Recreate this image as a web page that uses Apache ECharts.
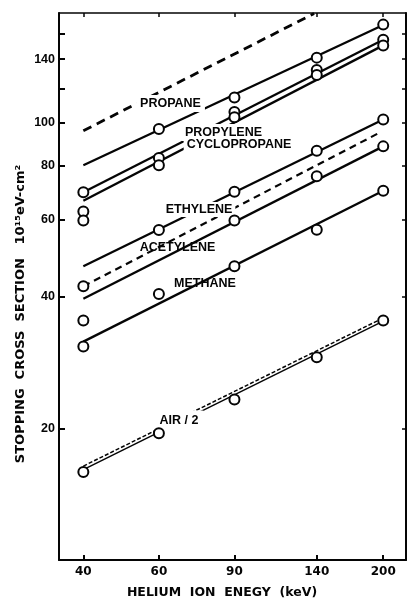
<!DOCTYPE html>
<html><head><meta charset="utf-8">
<script src="https://cdn.jsdelivr.net/npm/echarts@6/dist/echarts.min.js"></script>
<style>html,body{margin:0;padding:0;background:#fff}#c{width:409px;height:600px}</style>
</head><body><div id="c"></div>
<script>
// ---- data ----
const energies = [40, 60, 90, 140, 200];          // keV
const xTickValues = [40, 60, 90, 140, 200];
const yTickValues = [20, 40, 60, 80, 100, 120, 140, 160];
const yLabelValues = [20, 40, 60, 80, 100, 140];
const xRange = [35.1, 226];
const yRange = [10, 178.5];

// measured points (circles) at the energies above; null = no circle
const propaneData      = [null, 96.9, 114.3, 141.1, 167.9];
const propyleneData    = [69.4, 83.2, 106.0, 132.2, 155.1];
const cyclopropaneData = [null, 80.0, 103.0, 128.8, 150.5];
const ethyleneData     = [null, 56.9, 69.6, 86.4, 101.8];
const acetyleneDashData= [42.3, null, null, null, null];
const acetyleneData    = [null, null, 59.8, 75.5, 88.4];
const methaneData      = [30.8, 40.6, 47.0, 57.0, 70.0];
const airData          = [15.9, 19.5, 23.3, 29.1, 35.3];
const isolated40Data   = [62.7, 59.8, 35.3];       // lone circles at 40 keV

// fitted straight lines: [energy, value] end points
const propaneDashFit   = [[40, 96.0], [138, 178]];
const propaneFit       = [[40, 80.0], [200, 167.5]];
const propyleneFit     = [[40, 69.4], [200, 155.1]];
const cyclopropaneFit  = [[40, 66.4], [200, 150.5]];
const ethyleneFit      = [[40, 47.0], [200, 101.8]];
const acetyleneDashFit = [[40, 42.3], [196, 95.0]];
const acetyleneFit     = [[40, 39.6], [200, 88.4]];
const methaneFit       = [[40, 31.6], [200, 70.0]];
const airFit           = [[40, 16.1], [200, 35.2]];
const airDashFit       = [[40, 16.4], [200, 35.8]];

// ---- chart ----
const INK = '#050505';
const L = Math.log10;
const toXY = (e, v) => [L(e), L(v)];
const lg = a => a.map(L);

function fitSeries(pts, style) {
  return {
    type: 'line', data: pts.map(p => toXY(p[0], p[1])), symbol: 'none',
    silent: true, z: 2, clip: true, animation: false,
    lineStyle: Object.assign({ color: INK, width: 2.3, cap: 'butt' }, style)
  };
}

const circles = [];
[propaneData, propyleneData, cyclopropaneData, ethyleneData, acetyleneDashData,
 acetyleneData, methaneData, airData].forEach(arr =>
  arr.forEach((v, i) => { if (v != null) circles.push(toXY(energies[i], v)); }));
isolated40Data.forEach(v => circles.push(toXY(40, v)));

const labelFont = 'bold 12.5px "Liberation Sans", Arial, sans-serif';
function label(text, x, y, bg, pad) {
  return { type: 'text', x, y, z: 3, silent: true,
    style: { text, font: labelFont, fill: INK, align: 'center', verticalAlign: 'middle',
      backgroundColor: bg ? '#fff' : 'transparent', padding: pad || 0 } };
}

const fmt = v => String(Math.round(Math.pow(10, v)));
const xAxisBase = {
  type: 'value', min: L(xRange[0]), max: L(xRange[1]), splitLine: { show: false },
  axisLine: { lineStyle: { color: INK, width: 2 } }
};
const yAxisBase = {
  type: 'value', min: L(yRange[0]), max: L(yRange[1]), splitLine: { show: false },
  axisLine: { lineStyle: { color: INK, width: 2 } }
};

const chart = echarts.init(document.getElementById('c'), null, { renderer: 'canvas' });
chart.setOption({
  animation: false,
  backgroundColor: '#fff',
  grid: { left: 59, right: 3, top: 13, bottom: 40, containLabel: false, outerBoundsMode: 'none' },
  xAxis: [
    Object.assign({}, xAxisBase, {
      position: 'bottom',
      axisTick: { inside: true, length: 5, lineStyle: { color: INK, width: 2 }, customValues: lg(xTickValues) },
      axisLabel: { customValues: lg(xTickValues), formatter: fmt, margin: 6, color: INK,
        fontFamily: '"DejaVu Sans", sans-serif', fontWeight: 'bold', fontSize: 12 }
    }),
    Object.assign({}, xAxisBase, {
      position: 'top', axisLine: { lineStyle: { color: INK, width: 1.5 } },
      axisTick: { inside: true, length: 4, lineStyle: { color: INK, width: 1.5 }, customValues: lg(xTickValues) },
      axisLabel: { show: false }
    })
  ],
  yAxis: [
    Object.assign({}, yAxisBase, {
      position: 'left',
      axisTick: { inside: true, length: 6, lineStyle: { color: INK, width: 2 }, customValues: lg(yTickValues) },
      axisLabel: { customValues: lg(yLabelValues), formatter: fmt, margin: 4, color: INK,
        fontFamily: '"Liberation Sans", Arial, sans-serif', fontWeight: 'bold', fontSize: 12.5 }
    }),
    Object.assign({}, yAxisBase, {
      position: 'right',
      axisTick: { inside: true, length: 4, lineStyle: { color: INK, width: 1.5 }, customValues: lg(yTickValues) },
      axisLabel: { show: false }
    })
  ],
  series: [
    fitSeries(propaneDashFit, { type: [9, 6], width: 2.8 }),
    fitSeries(propaneFit, {}),
    fitSeries(propyleneFit, {}),
    fitSeries(cyclopropaneFit, {}),
    fitSeries(ethyleneFit, {}),
    fitSeries(acetyleneDashFit, { type: [7, 5], width: 2.2 }),
    fitSeries(acetyleneFit, {}),
    fitSeries(methaneFit, {}),
    fitSeries(airFit, { width: 1.5 }),
    fitSeries(airDashFit, { type: [4, 2], width: 1.5 }),
    {
      type: 'scatter', data: circles, symbol: 'circle', symbolSize: 10, z: 5, silent: true,
      itemStyle: { color: '#fff', borderColor: INK, borderWidth: 2, opacity: 1 }
    }
  ],
  graphic: [
    label('PROPANE', 170.5, 103.5, true, [2, 4]),
    label('PROPYLENE', 223.5, 132.5, true, [2, 3]),
    label('CYCLOPROPANE', 239, 144.5, true, [1, 3]),
    label('ETHYLENE', 199, 209.5, true, [1, 3]),
    label('ACETYLENE', 177.5, 247.5, false),
    label('METHANE', 205, 284, false),
    label('AIR / 2', 179, 421, true, [4, 5]),
    { type: 'text', x: 20.5, y: 314, rotation: Math.PI / 2, z: 3, silent: true,
      style: { text: 'STOPPING  CROSS  SECTION   10¹⁵eV-cm²', fill: INK,
        font: 'bold 13px "DejaVu Sans", sans-serif', align: 'center', verticalAlign: 'middle' } },
    { type: 'text', x: 222, y: 593, z: 3, silent: true,
      style: { text: 'HELIUM  ION  ENEGY  (keV)', fill: INK,
        font: 'bold 12.5px "DejaVu Sans", sans-serif', align: 'center', verticalAlign: 'middle' } }
  ]
});
</script></body></html>
